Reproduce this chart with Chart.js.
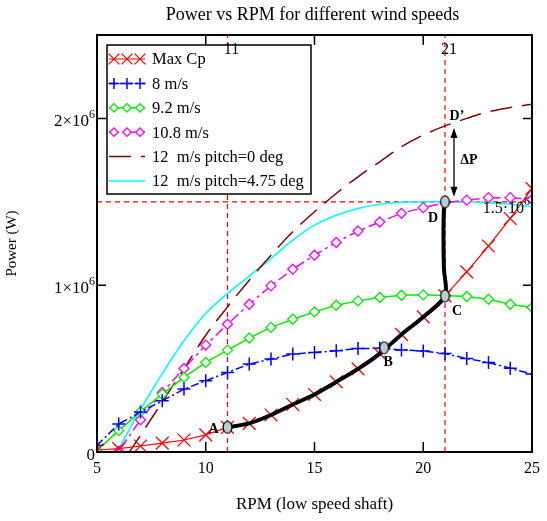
<!DOCTYPE html>
<html>
<head>
<meta charset="utf-8">
<title>Power vs RPM for different wind speeds</title>
<script src="https://cdn.jsdelivr.net/npm/chart.js@4.4.1/dist/chart.umd.min.js"></script>
<style>
  html, body { margin: 0; padding: 0; background: #fff; }
  canvas { display: block; }
</style>
</head>
<body>
<canvas id="powerChart" width="547" height="521"></canvas>
<script>
// === Data ===================================================================
const rpm = [5, 6, 7, 8, 9, 10, 11, 12, 13, 14, 15, 16, 17, 18, 19, 20, 21, 22, 23, 24, 25];

const maxCp    = [0.012e6, 0.02e6, 0.036e6, 0.053e6, 0.072e6, 0.103e6, 0.148e6, 0.172e6, 0.222e6, 0.285e6, 0.345e6,
                  0.42e6, 0.498e6, 0.59e6, 0.705e6, 0.81e6, 0.936e6, 1.08e6, 1.235e6, 1.4e6, 1.58e6];
const wind8    = [0.04e6, 0.168e6, 0.24e6, 0.307e6, 0.377e6, 0.427e6, 0.477e6, 0.527e6, 0.557e6, 0.587e6, 0.597e6,
                  0.607e6, 0.62e6, 0.622e6, 0.612e6, 0.605e6, 0.59e6, 0.56e6, 0.537e6, 0.502e6, 0.467e6];
const wind92   = [0.01e6, 0.128e6, 0.242e6, 0.347e6, 0.447e6, 0.537e6, 0.611e6, 0.683e6, 0.747e6, 0.796e6, 0.84e6,
                  0.88e6, 0.906e6, 0.926e6, 0.94e6, 0.942e6, 0.938e6, 0.932e6, 0.916e6, 0.886e6, 0.866e6];
const wind108  = [-0.18e6, 0.005e6, 0.193e6, 0.357e6, 0.501e6, 0.641e6, 0.766e6, 0.886e6, 0.996e6, 1.096e6, 1.18e6,
                  1.256e6, 1.325e6, 1.379e6, 1.431e6, 1.465e6, 1.495e6, 1.51e6, 1.525e6, 1.525e6, 1.515e6];
const wind12p0 = [-0.35e6, -0.1e6, 0.1e6, 0.3e6, 0.5e6, 0.7e6, 0.87e6, 1.03e6, 1.18e6, 1.32e6, 1.44e6,
                  1.55e6, 1.65e6, 1.74e6, 1.83e6, 1.9e6, 1.955e6, 2.0e6, 2.04e6, 2.065e6, 2.085e6];
const wind12p4 = [-0.18e6, 0.02e6, 0.255e6, 0.47e6, 0.667e6, 0.83e6, 0.95e6, 1.055e6, 1.16e6, 1.27e6, 1.36e6,
                  1.42e6, 1.46e6, 1.485e6, 1.497e6, 1.5e6, 1.5e6, 1.5e6, 1.495e6, 1.485e6, 1.47e6];

// operating path A -> B -> C -> D
const pathRpm   = [11, 12, 13, 14, 15, 16, 17, 18, 19, 20, 21, 20.95, 20.93, 20.95, 21];
const pathPower = [0.148e6, 0.172e6, 0.222e6, 0.285e6, 0.345e6, 0.42e6, 0.498e6, 0.59e6, 0.705e6, 0.81e6, 0.936e6,
                   1.1e6, 1.3e6, 1.45e6, 1.5e6];

const markNames = ["A", "B", "C", "D"];
const markRpm   = [11, 18.2, 21, 21];
const markPower = [0.148e6, 0.625e6, 0.936e6, 1.5e6];

const refRpm   = [11, 21];
const refPower = 1.5e6;
const peakRpm = 21, peakPower = 1.955e6;   // D'

const xRange = [5, 25];
const yRange = [0, 2.5e6];
const xTicks = [5, 10, 15, 20, 25];
const yTicks = [0, 1e6, 2e6];

const seriesLabels = ["Max Cp", "8 m/s", "9.2 m/s", "10.8 m/s", "12  m/s pitch=0 deg", "12  m/s pitch=4.75 deg"];

// === Helpers ================================================================
const SERIF = "'Liberation Serif', 'Times New Roman', serif";
const pts = (xs, ys) => xs.map((v, i) => ({ x: v, y: ys[i] }));

function ellipseImage() {
  const c = document.createElement("canvas");
  c.width = 11; c.height = 14;
  const g = c.getContext("2d");
  g.beginPath();
  g.ellipse(5.5, 7, 4.4, 6, 0, 0, Math.PI * 2);
  g.fillStyle = "#b7cfd2";
  g.fill();
  g.lineWidth = 1.2;
  g.strokeStyle = "#000";
  g.stroke();
  return c;
}

function supText(ctx, main, sup, xRight, base, size, supSize) {
  ctx.font = supSize + "px " + SERIF;
  const ws = sup ? ctx.measureText(sup).width : 0;
  ctx.font = size + "px " + SERIF;
  const wm = ctx.measureText(main).width;
  ctx.textAlign = "left";
  ctx.textBaseline = "alphabetic";
  ctx.fillText(main, xRight - ws - wm, base);
  if (sup) {
    ctx.font = supSize + "px " + SERIF;
    ctx.fillText(sup, xRight - ws, base - 8);
  }
}

// === Decorations: frame, inward ticks, labels, legend =======================
const decor = {
  id: "decor",
  afterDatasetsDraw(chart) {
    const { ctx, chartArea: a, scales: { x, y } } = chart;
    ctx.save();
    ctx.fillStyle = "#000";
    ctx.strokeStyle = "#000";

    // frame
    ctx.lineWidth = 2;
    ctx.strokeRect(a.left, a.top, a.right - a.left, a.bottom - a.top);

    // inward tick marks
    ctx.lineWidth = 1.5;
    ctx.beginPath();
    xTicks.forEach(v => {
      const px = x.getPixelForValue(v);
      ctx.moveTo(px, a.bottom); ctx.lineTo(px, a.bottom - 10);
      ctx.moveTo(px, a.top); ctx.lineTo(px, a.top + 10);
    });
    yTicks.forEach(v => {
      const py = y.getPixelForValue(v);
      ctx.moveTo(a.left, py); ctx.lineTo(a.left + 9, py);
      ctx.moveTo(a.right, py); ctx.lineTo(a.right - 9, py);
    });
    ctx.stroke();

    // y tick labels (with superscript exponent)
    yTicks.forEach(v => {
      const py = y.getPixelForValue(v);
      if (v === 0) supText(ctx, "0", "", a.left - 2, py + 8, 17, 12);
      else supText(ctx, (v / 1e6) + "\u00d710", "6", a.left - 2, py + 8, 17, 12);
    });

    // point names
    ctx.font = "bold 14px " + SERIF;
    ctx.textAlign = "center";
    ctx.textBaseline = "middle";
    const offs = [[-14, 2], [4, 15], [12, 16], [-12, 17]];
    markNames.forEach((n, i) => {
      ctx.fillText(n, x.getPixelForValue(markRpm[i]) + offs[i][0], y.getPixelForValue(markPower[i]) + offs[i][1]);
    });
    const px21 = x.getPixelForValue(peakRpm);
    const pyTop = y.getPixelForValue(peakPower);
    const pyBot = y.getPixelForValue(refPower);
    ctx.fillText("D\u2019", px21 + 12, pyTop - 10);
    ctx.fillText("\u0394P", px21 + 24, (pyTop + pyBot) / 2 - 3);

    // double arrow between D and D'
    const ax = px21 + 9, y1 = pyTop + 2, y2 = pyBot - 5;
    ctx.lineWidth = 1.3;
    ctx.beginPath();
    ctx.moveTo(ax, y1 + 6); ctx.lineTo(ax, y2 - 6);
    ctx.stroke();
    ctx.beginPath();
    ctx.moveTo(ax, y1); ctx.lineTo(ax - 3.5, y1 + 10); ctx.lineTo(ax + 3.5, y1 + 10); ctx.closePath();
    ctx.moveTo(ax, y2); ctx.lineTo(ax - 3.5, y2 - 10); ctx.lineTo(ax + 3.5, y2 - 10); ctx.closePath();
    ctx.fill();

    // title
    ctx.font = "18px " + SERIF;
    ctx.textAlign = "center";
    ctx.textBaseline = "middle";
    ctx.fillText("Power vs RPM for different wind speeds", (a.left + a.right) / 2 - 2, 15);

    // legend box
    const lx = 107, ly = 45, lw = 204, lh = 149;
    ctx.fillStyle = "#fff";
    ctx.fillRect(lx, ly, lw, lh);
    ctx.lineWidth = 1.5;
    ctx.strokeStyle = "#000";
    ctx.strokeRect(lx, ly, lw, lh);

    chart.data.datasets.slice(0, 6).forEach((ds, i) => {
      const ry = ly + 14 + i * 24.4;
      ctx.save();
      ctx.strokeStyle = ds.borderColor;
      ctx.lineWidth = ds.borderWidth;
      ctx.setLineDash(ds.borderDash || []);
      ctx.beginPath();
      ctx.moveTo(lx + 2, ry); ctx.lineTo(lx + 38, ry);
      ctx.stroke();
      ctx.setLineDash([]);
      if (ds.pointRadius > 0 && Chart.helpers && Chart.helpers.drawPoint) {
        ctx.fillStyle = ds.pointBackgroundColor || "rgba(0,0,0,0)";
        ctx.strokeStyle = ds.pointBorderColor || ds.borderColor;
        ctx.lineWidth = ds.pointBorderWidth;
        [lx + 7, lx + 20, lx + 33].forEach(mx => {
          Chart.helpers.drawPoint(ctx, {
            pointStyle: ds.pointStyle, radius: ds.pointRadius * 0.85, rotation: 0, borderWidth: ds.pointBorderWidth
          }, mx, ry);
        });
      }
      ctx.restore();
      ctx.fillStyle = "#000";
      ctx.font = "16.5px " + SERIF;
      ctx.textAlign = "left";
      ctx.textBaseline = "middle";
      ctx.fillText(ds.label, lx + 45, ry + 1);
    });

    // labels on the reference lines (drawn over the legend border)
    ctx.fillStyle = "#000";
    ctx.font = "16px " + SERIF;
    ctx.textAlign = "center";
    ctx.textBaseline = "middle";
    refRpm.forEach(v => ctx.fillText(String(v), x.getPixelForValue(v) + 4, a.top + 15));
    supText(ctx, "1.5\u00b710", "6", a.right - 2, y.getPixelForValue(refPower) + 11, 16, 12);

    ctx.restore();
  }
};

// === Chart ==================================================================
const refStyle = { borderColor: "#ff0000", borderWidth: 1.2, borderDash: [5, 4], pointRadius: 0, order: 9 };

new Chart(document.getElementById("powerChart"), {
  type: "line",
  data: {
    datasets: [
      {
        label: seriesLabels[0], data: pts(rpm, maxCp), borderColor: "#ff0000", borderWidth: 1.2,
        pointStyle: "crossRot", pointRadius: 9, pointBorderColor: "#ff0000", pointBorderWidth: 1.3, order: 2
      },
      {
        label: seriesLabels[1], data: pts(rpm, wind8), borderColor: "#0000ff", borderWidth: 1.5, borderDash: [8, 3, 2, 3],
        pointStyle: "cross", pointRadius: 6.5, pointBorderColor: "#0000ff", pointBorderWidth: 1.5, order: 3
      },
      {
        label: seriesLabels[2], data: pts(rpm, wind92), borderColor: "#00ee00", borderWidth: 1.5,
        pointStyle: "rectRot", pointRadius: 5, pointBorderColor: "#00ee00", pointBackgroundColor: "#ffffff",
        pointBorderWidth: 1.3, order: 4
      },
      {
        label: seriesLabels[3], data: pts(rpm, wind108), borderColor: "#ff00ff", borderWidth: 1.5, borderDash: [10, 4, 3, 4],
        pointStyle: "rectRot", pointRadius: 5, pointBorderColor: "#ff00ff", pointBackgroundColor: "#ffffff",
        pointBorderWidth: 1.3, order: 5
      },
      {
        label: seriesLabels[4], data: pts(rpm, wind12p0), borderColor: "#800000", borderWidth: 1.5, borderDash: [22, 10],
        pointRadius: 0, cubicInterpolationMode: "monotone", order: 6
      },
      {
        label: seriesLabels[5], data: pts(rpm, wind12p4), borderColor: "#00ffff", borderWidth: 1.6,
        pointRadius: 0, cubicInterpolationMode: "monotone", order: 7
      },
      {
        label: "path", data: pts(pathRpm, pathPower), borderColor: "#000", borderWidth: 4,
        pointRadius: 0, tension: 0.3, order: 1
      },
      {
        label: "points", data: pts(markRpm, markPower), showLine: false,
        pointStyle: ellipseImage(), pointRadius: 6, order: 0
      },
      { label: "ref11", data: pts([refRpm[0], refRpm[0]], yRange), ...refStyle },
      { label: "ref21", data: pts([refRpm[1], refRpm[1]], yRange), ...refStyle },
      { label: "ref1.5", data: pts(xRange, [refPower, refPower]), ...refStyle }
    ]
  },
  options: {
    responsive: false,
    devicePixelRatio: 1,
    animation: false,
    layout: { padding: { top: 35, right: 11, left: 0, bottom: 0 } },
    plugins: { legend: { display: false }, tooltip: { enabled: false }, title: { display: false } },
    scales: {
      x: {
        type: "linear", min: xRange[0], max: xRange[1],
        grid: { display: false, drawTicks: false },
        border: { display: false },
        ticks: {
          stepSize: 5, padding: 7, maxRotation: 0, autoSkip: false, color: "#000",
          font: { family: SERIF, size: 16 }
        },
        title: {
          display: true, text: "RPM (low speed shaft)", color: "#000",
          font: { family: SERIF, size: 17 }, padding: { top: 0, bottom: 6 }
        },
        afterFit: (s) => { s.height = 69; }
      },
      y: {
        type: "linear", min: yRange[0], max: yRange[1],
        grid: { display: false, drawTicks: false },
        border: { display: false },
        ticks: { display: false, stepSize: 1e6 },
        title: {
          display: true, text: "Power (W)", color: "#000",
          font: { family: SERIF, size: 15 }, padding: { top: 3, bottom: 0 }
        },
        afterFit: (s) => { s.width = 97; }
      }
    }
  },
  plugins: [decor]
});
</script>
</body>
</html>
